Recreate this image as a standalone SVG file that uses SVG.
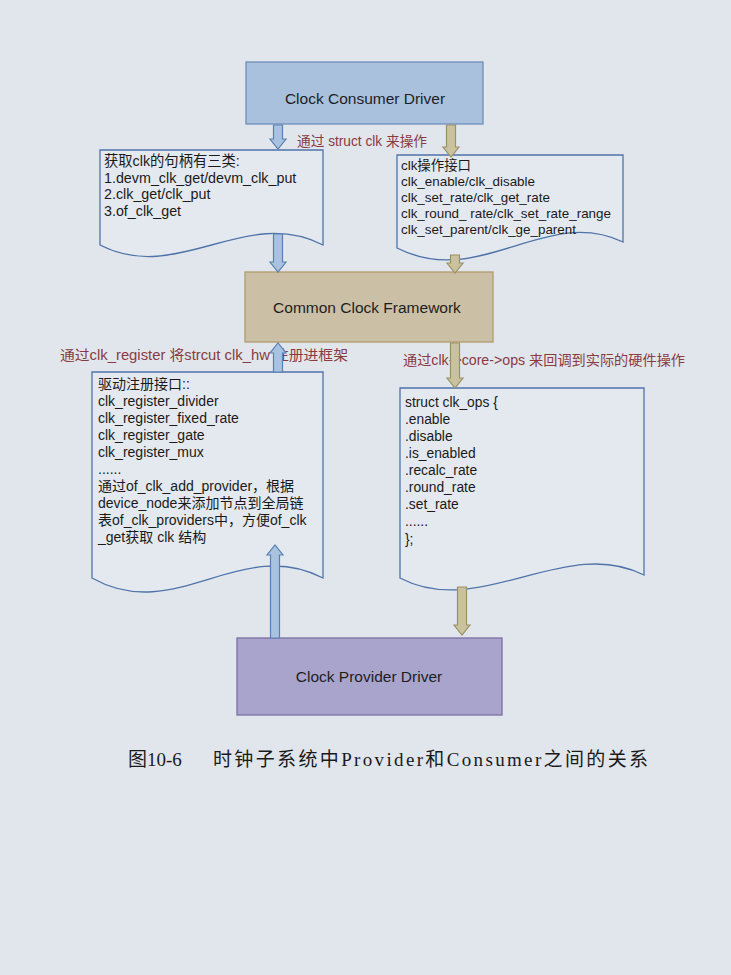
<svg xmlns="http://www.w3.org/2000/svg" width="731" height="975" viewBox="0 0 731 975">
<style>
.bg{fill:#e1e6ed}
.doc{fill:#e4e9ef;stroke:#4f73a9;stroke-width:1.3}
.t{font-family:"Liberation Sans","Noto Sans CJK SC",sans-serif;fill:#1a1a1a}
.lbl{font-family:"Liberation Sans","Noto Sans CJK SC",sans-serif;fill:#8a3b40;font-size:14px}
.node{font-family:"Liberation Sans",sans-serif;font-size:15.5px;fill:#1e1e1e;text-anchor:middle}
.ab{fill:#a9c2df;stroke:#5a80b3;stroke-width:1.2}
.ao{fill:#c9c29d;stroke:#9a9267;stroke-width:1.2}
</style>
<rect class="bg" x="0" y="0" width="731" height="975"/>

<g id="consumer">
  <rect x="246" y="62" width="237" height="62" fill="#a9c1dd" stroke="#6e8fbb" stroke-width="1.3"/>
  <text class="node" x="365" y="104">Clock Consumer Driver</text>
</g>

<text class="lbl" x="297" y="146" textLength="130" lengthAdjust="spacingAndGlyphs">通过 struct clk 来操作</text>

<g id="doc-get">
  <path class="doc" d="M100,150 H323 V245 C245,205 178,285 100,245 Z"/>
  <text class="t" font-size="14.3" x="104" y="166">获取clk的句柄有三类:</text>
  <text class="t" font-size="14.3" x="104" y="183">1.devm_clk_get/devm_clk_put</text>
  <text class="t" font-size="14.3" x="104" y="199">2.clk_get/clk_put</text>
  <text class="t" font-size="14.3" x="104" y="216">3.of_clk_get</text>
</g>

<g id="doc-ops-api">
  <path class="doc" d="M397,155 H623 V242 C545,205 480,290 397,248 Z"/>
  <text class="t" font-size="13.4" x="401" y="170">clk操作接口</text>
  <text class="t" font-size="13.4" x="401" y="186">clk_enable/clk_disable</text>
  <text class="t" font-size="13.4" x="401" y="202">clk_set_rate/clk_get_rate</text>
  <text class="t" font-size="13.4" x="401" y="218">clk_round_ rate/clk_set_rate_range</text>
  <text class="t" font-size="13.4" x="401" y="234">clk_set_parent/clk_ge_parent</text>
</g>

<g id="ccf">
  <rect x="245" y="272" width="248" height="70" fill="#cbbfa5" stroke="#b09b6c" stroke-width="1.3"/>
  <text class="node" x="367" y="313">Common Clock Framework</text>
</g>

<text class="lbl" x="60" y="360" textLength="288" lengthAdjust="spacingAndGlyphs">通过clk_register 将strcut clk_hw 注册进框架</text>
<text class="lbl" x="403" y="365" textLength="282" lengthAdjust="spacingAndGlyphs">通过clk-&gt;core-&gt;ops 来回调到实际的硬件操作</text>

<g id="doc-register">
  <path class="doc" d="M92,372 H323 V578 C240,535 175,625 92,578 Z"/>
  <text class="t" font-size="14" x="98" y="389">驱动注册接口::</text>
  <text class="t" font-size="14" x="98" y="406">clk_register_divider</text>
  <text class="t" font-size="14" x="98" y="423">clk_register_fixed_rate</text>
  <text class="t" font-size="14" x="98" y="440">clk_register_gate</text>
  <text class="t" font-size="14" x="98" y="457">clk_register_mux</text>
  <text class="t" font-size="14" x="98" y="474">......</text>
  <text class="t" font-size="14" x="98" y="491">通过of_clk_add_provider，根据</text>
  <text class="t" font-size="14" x="98" y="508">device_node来添加节点到全局链</text>
  <text class="t" font-size="14" x="98" y="525">表of_clk_providers中，方便of_clk</text>
  <text class="t" font-size="14" x="98" y="542">_get获取 clk 结构</text>
</g>

<g id="doc-clk-ops">
  <path class="doc" d="M400,388 H644 V575 C565,535 480,620 400,578 Z"/>
  <text class="t" font-size="13.8" x="405" y="407">struct clk_ops {</text>
  <text class="t" font-size="13.8" x="405" y="424">.enable</text>
  <text class="t" font-size="13.8" x="405" y="441">.disable</text>
  <text class="t" font-size="13.8" x="405" y="458">.is_enabled</text>
  <text class="t" font-size="13.8" x="405" y="475">.recalc_rate</text>
  <text class="t" font-size="13.8" x="405" y="492">.round_rate</text>
  <text class="t" font-size="13.8" x="405" y="509">.set_rate</text>
  <text class="t" font-size="13.8" x="405" y="526">......</text>
  <text class="t" font-size="13.8" x="405" y="544">};</text>
</g>

<g id="provider">
  <rect x="237" y="638" width="265" height="77" fill="#a9a4cc" stroke="#7a70a2" stroke-width="1.3"/>
  <text class="node" x="369" y="682" font-size="16">Clock Provider Driver</text>
</g>

<g id="connectors">
  <path class="ab" d="M273.5,125 H282.5 V139 H286 L278,149 L270,139 H273.5 Z"/>
  <path class="ao" d="M446.5,125 H455.5 V147 H459 L451,157 L443,147 H446.5 Z"/>
  <path class="ab" d="M273.5,234 H282.5 V262 H286 L278,272 L270,262 H273.5 Z"/>
  <path class="ao" d="M450.5,255 H459.5 V263 H463 L455,273 L447,263 H450.5 Z"/>
  <path class="ao" d="M450.5,343 H459.5 V378 H463 L455,388 L447,378 H450.5 Z"/>
  <path class="ao" d="M457.5,587 H466.5 V625 H470 L462,635 L454,625 H457.5 Z"/>
  <path class="ab" d="M273.5,372 H282.5 V353 H286 L278,343 L270,353 H273.5 Z"/>
  <path class="ab" d="M270.5,638 H279.5 V555 H283 L275,545 L267,555 H270.5 Z"/>
</g>

<text x="128" y="766" font-family="'Liberation Serif','Noto Sans CJK SC',serif" font-size="19" fill="#1a1a1a">图10-6</text>
<text x="213" y="766" font-family="'Liberation Serif','Noto Sans CJK SC',serif" font-size="19" fill="#1a1a1a" textLength="435" lengthAdjust="spacing">时钟子系统中Provider和Consumer之间的关系</text>
</svg>
